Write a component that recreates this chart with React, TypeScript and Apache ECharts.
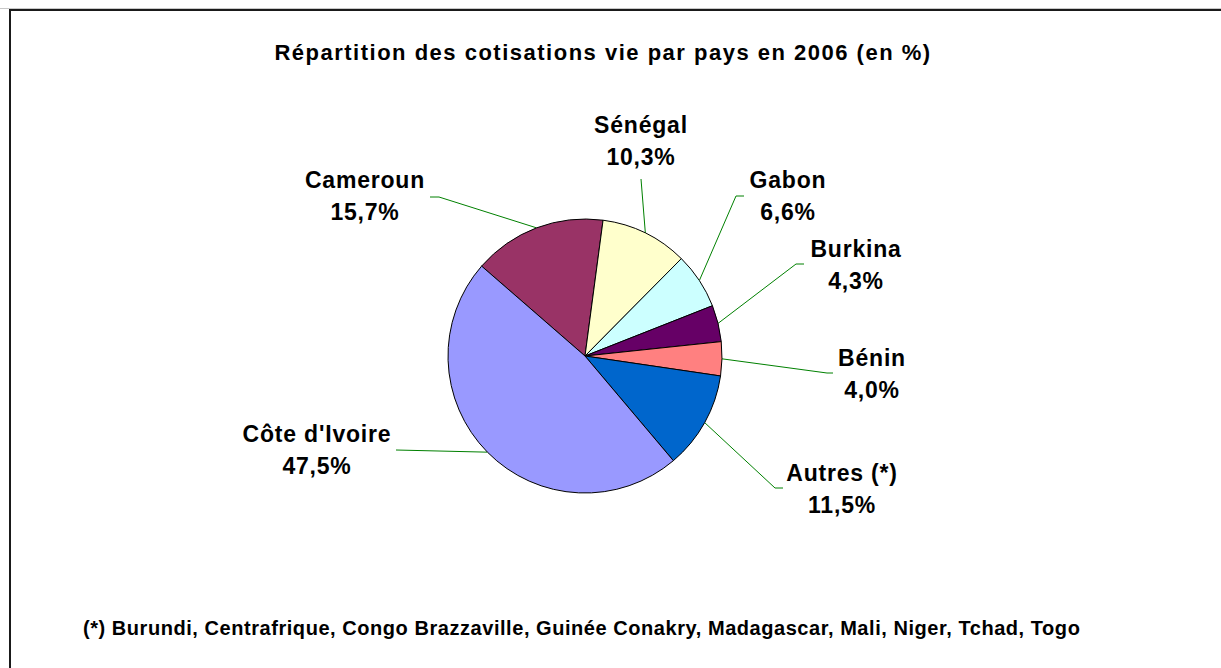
import React, { useEffect, useRef } from 'react';
import * as echarts from 'echarts';

const categories = ['Cameroun', 'Sénégal', 'Gabon', 'Burkina', 'Bénin', 'Autres (*)', "Côte d'Ivoire"];
const shares = [15.7, 10.3, 6.6, 4.3, 4.0, 11.5, 47.5];
const colors = ['#993366', '#FFFFCC', '#CCFFFF', '#660066', '#FF8080', '#0066CC', '#9999FF'];
const titleText = 'Répartition des cotisations vie par pays en 2006 (en %)';
const noteText =
  '(*) Burundi, Centrafrique, Congo Brazzaville, Guinée Conakry, Madagascar, Mali, Niger, Tchad, Togo';

// label placement (layout, not data)
const labelCenters = [[365, 196], [641, 141], [788, 196], [856, 265], [872, 374], [842, 489], [317, 450]];
const leaderBends = [[439, 197], [641, 179], [736, 196], [796, 264], [827, 373], [775, 488], [396, 450]];
const leaderEnds = [[430, 197], [641, 179], [744, 196], [804, 264], [833, 373], [783, 488], [396, 450]];

const FONT = '"Liberation Sans", Arial, sans-serif';
const fmt = (v: number) => v.toFixed(1).replace('.', ',') + '%';

export default function App() {
  const ref = useRef<HTMLDivElement>(null);
  useEffect(() => {
    if (!ref.current) return;
    const chart = echarts.init(ref.current, undefined, { renderer: 'svg' });
    chart.setOption({
      animation: false,
      backgroundColor: '#ffffff',
      graphic: [
        { type: 'line', silent: true, shape: { x1: 0, y1: 8.5, x2: 1221, y2: 8.5 }, style: { stroke: '#c8c8c8', lineWidth: 1 } },
        { type: 'rect', silent: true, shape: { x: 10, y: 10, width: 1300, height: 700 }, style: { fill: 'none', stroke: '#1a1a1a', lineWidth: 2 } },
        {
          type: 'text', silent: true, x: 603, y: 52,
          style: { text: titleText, font: `bold 22px ${FONT}`, fill: '#000', textAlign: 'center', textVerticalAlign: 'middle' },
        },
        {
          type: 'text', silent: true, x: 83, y: 628,
          style: { text: noteText, font: `bold 20px ${FONT}`, fill: '#000', textAlign: 'left', textVerticalAlign: 'middle' },
        },
      ],
      series: [
        {
          type: 'pie',
          silent: true,
          center: [585, 356],
          radius: 137,
          startAngle: 139,
          clockwise: true,
          avoidLabelOverlap: false,
          emphasis: { disabled: true },
          itemStyle: { borderColor: '#000', borderWidth: 1 },
          data: categories.map((name, i) => ({ name, value: shares[i], itemStyle: { color: colors[i] } })),
          label: {
            show: true,
            position: 'outside',
            formatter: (p: any) => `${p.name}\n${fmt(p.value)}`,
            fontFamily: FONT,
            fontWeight: 'bold',
            fontSize: 23,
            lineHeight: 32,
            color: '#000',
            align: 'center',
          },
          labelLine: { show: true, length: 10, length2: 10, lineStyle: { color: '#008000', width: 1 } },
          labelLayout: (p: any) => {
            const i = p.dataIndex;
            return {
              x: labelCenters[i][0],
              y: labelCenters[i][1],
              align: 'center',
              verticalAlign: 'middle',
              labelLinePoints: [p.labelLinePoints[0], leaderBends[i], leaderEnds[i]],
            };
          },
        },
      ],
    });
    return () => chart.dispose();
  }, []);
  return (
    <>
      <style>{`
        #chartbox svg text[style*="23px"] { letter-spacing: 0.8px; }
        #chartbox svg text[style*="22px"] { letter-spacing: 1.5px; }
        #chartbox svg text[style*="20px"] { letter-spacing: 0.55px; }
      `}</style>
      <div
        id="chartbox"
        ref={ref}
        style={{ position: 'absolute', left: 0, top: 0, width: 1221, height: 668, background: '#fff' }}
      />
    </>
  );
}
